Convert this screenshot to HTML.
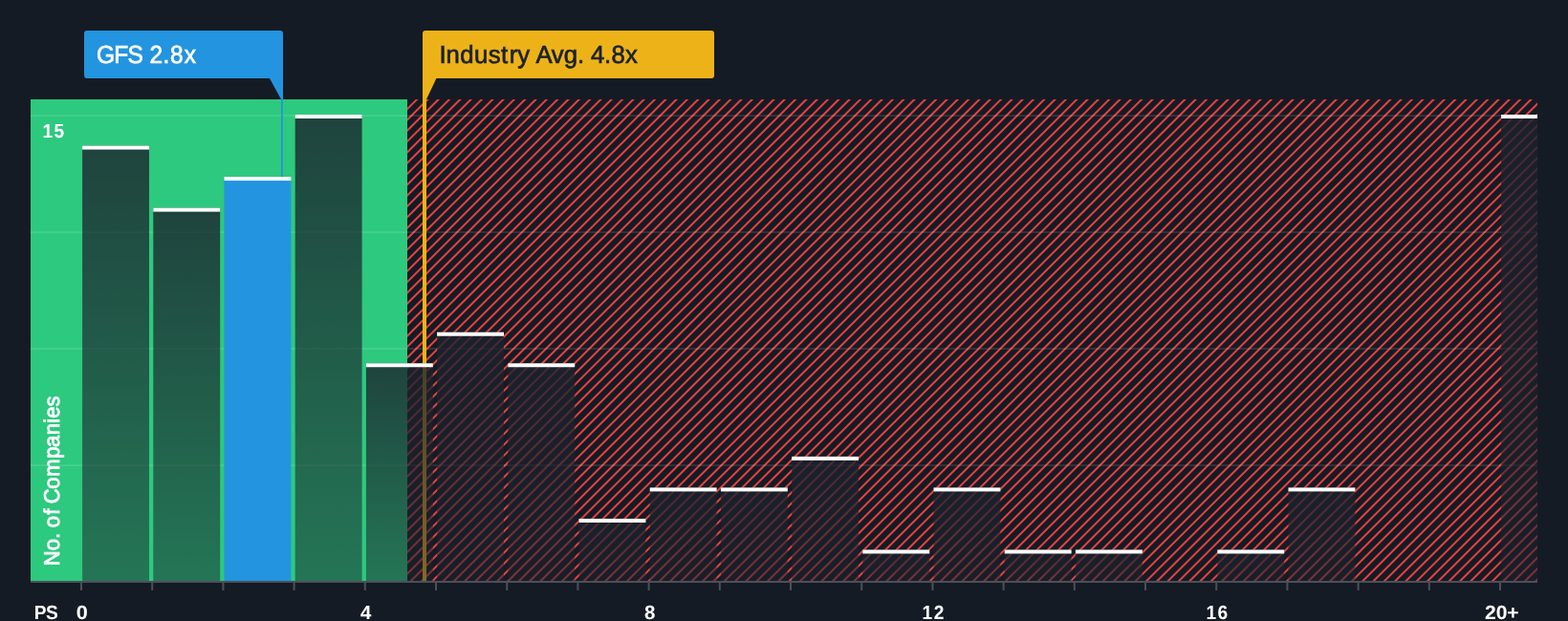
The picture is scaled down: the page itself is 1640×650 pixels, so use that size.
<!DOCTYPE html>
<html lang="en">
<head>
<meta charset="utf-8">
<title>GFS Price to Sales vs Industry</title>
<style>
html,body{margin:0;padding:0;background:#151B24;}
body{width:1640px;height:650px;overflow:hidden;}
svg{display:block;}
text{font-family:"Liberation Sans",sans-serif;}
</style>
</head>
<body>
<svg width="1640" height="650" viewBox="0 0 1640 650">
<defs>
<pattern id="hatch" patternUnits="userSpaceOnUse" width="8" height="8" patternTransform="translate(6.9 0) rotate(45)">
<rect x="0" y="0" width="2" height="8" fill="#E64141"/>
</pattern>
<linearGradient id="barg" x1="0" y1="0" x2="0" y2="1">
<stop offset="0" stop-color="#1B222D" stop-opacity="0.8"/>
<stop offset="1" stop-color="#1B222D" stop-opacity="0.5"/>
</linearGradient>
<clipPath id="plot"><rect x="32" y="104" width="1576" height="504"/></clipPath>
</defs>
<rect x="0" y="0" width="1640" height="650" fill="#151B24"/>
<rect x="32" y="104" width="394" height="504" fill="#2DC97E"/>
<rect x="426" y="104" width="1182" height="504" fill="url(#hatch)"/>
<rect x="32" y="120.30" width="1576" height="1.5" fill="#ffffff" fill-opacity="0.14"/>
<rect x="32" y="242.30" width="1576" height="1.5" fill="#ffffff" fill-opacity="0.14"/>
<rect x="32" y="364.30" width="1576" height="1.5" fill="#ffffff" fill-opacity="0.14"/>
<rect x="32" y="486.30" width="1576" height="1.5" fill="#ffffff" fill-opacity="0.14"/>
<rect x="442" y="82" width="4" height="526" fill="#EEB219"/>
<g clip-path="url(#plot)">
<rect x="86.10" y="152.53" width="69.9" height="455.47" fill="url(#barg)"/>
<rect x="86.10" y="152.53" width="69.9" height="4" fill="#ffffff"/>
<rect x="160.30" y="217.60" width="69.9" height="390.40" fill="url(#barg)"/>
<rect x="160.30" y="217.60" width="69.9" height="4" fill="#ffffff"/>
<rect x="234.50" y="185.07" width="69.9" height="422.93" fill="#2394DF"/>
<rect x="234.50" y="185.07" width="69.9" height="4" fill="#ffffff"/>
<rect x="308.70" y="120.00" width="69.9" height="488.00" fill="url(#barg)"/>
<rect x="308.70" y="120.00" width="69.9" height="4" fill="#ffffff"/>
<rect x="382.90" y="380.27" width="69.9" height="227.73" fill="url(#barg)"/>
<rect x="382.90" y="380.27" width="69.9" height="4" fill="#ffffff"/>
<rect x="457.10" y="347.73" width="69.9" height="260.27" fill="url(#barg)"/>
<rect x="457.10" y="347.73" width="69.9" height="4" fill="#ffffff"/>
<rect x="531.30" y="380.27" width="69.9" height="227.73" fill="url(#barg)"/>
<rect x="531.30" y="380.27" width="69.9" height="4" fill="#ffffff"/>
<rect x="605.50" y="542.93" width="69.9" height="65.07" fill="url(#barg)"/>
<rect x="605.50" y="542.93" width="69.9" height="4" fill="#ffffff"/>
<rect x="679.70" y="510.40" width="69.9" height="97.60" fill="url(#barg)"/>
<rect x="679.70" y="510.40" width="69.9" height="4" fill="#ffffff"/>
<rect x="753.90" y="510.40" width="69.9" height="97.60" fill="url(#barg)"/>
<rect x="753.90" y="510.40" width="69.9" height="4" fill="#ffffff"/>
<rect x="828.10" y="477.87" width="69.9" height="130.13" fill="url(#barg)"/>
<rect x="828.10" y="477.87" width="69.9" height="4" fill="#ffffff"/>
<rect x="902.30" y="575.47" width="69.9" height="32.53" fill="url(#barg)"/>
<rect x="902.30" y="575.47" width="69.9" height="4" fill="#ffffff"/>
<rect x="976.50" y="510.40" width="69.9" height="97.60" fill="url(#barg)"/>
<rect x="976.50" y="510.40" width="69.9" height="4" fill="#ffffff"/>
<rect x="1050.70" y="575.47" width="69.9" height="32.53" fill="url(#barg)"/>
<rect x="1050.70" y="575.47" width="69.9" height="4" fill="#ffffff"/>
<rect x="1124.90" y="575.47" width="69.9" height="32.53" fill="url(#barg)"/>
<rect x="1124.90" y="575.47" width="69.9" height="4" fill="#ffffff"/>
<rect x="1273.30" y="575.47" width="69.9" height="32.53" fill="url(#barg)"/>
<rect x="1273.30" y="575.47" width="69.9" height="4" fill="#ffffff"/>
<rect x="1347.50" y="510.40" width="69.9" height="97.60" fill="url(#barg)"/>
<rect x="1347.50" y="510.40" width="69.9" height="4" fill="#ffffff"/>
<rect x="1570.10" y="120.00" width="69.9" height="488.00" fill="url(#barg)"/>
<rect x="1570.10" y="120.00" width="69.9" height="4" fill="#ffffff"/>
</g>
<rect x="294" y="82" width="1.8" height="103.07" fill="#2394DF"/>
<rect x="32" y="608" width="1576" height="2" fill="#4B4F58"/>
<rect x="84.00" y="610" width="2" height="8" fill="#4B4F58"/>
<rect x="158.20" y="610" width="2" height="8" fill="#4B4F58"/>
<rect x="232.40" y="610" width="2" height="8" fill="#4B4F58"/>
<rect x="306.60" y="610" width="2" height="8" fill="#4B4F58"/>
<rect x="380.80" y="610" width="2" height="8" fill="#4B4F58"/>
<rect x="455.00" y="610" width="2" height="8" fill="#4B4F58"/>
<rect x="529.20" y="610" width="2" height="8" fill="#4B4F58"/>
<rect x="603.40" y="610" width="2" height="8" fill="#4B4F58"/>
<rect x="677.60" y="610" width="2" height="8" fill="#4B4F58"/>
<rect x="751.80" y="610" width="2" height="8" fill="#4B4F58"/>
<rect x="826.00" y="610" width="2" height="8" fill="#4B4F58"/>
<rect x="900.20" y="610" width="2" height="8" fill="#4B4F58"/>
<rect x="974.40" y="610" width="2" height="8" fill="#4B4F58"/>
<rect x="1048.60" y="610" width="2" height="8" fill="#4B4F58"/>
<rect x="1122.80" y="610" width="2" height="8" fill="#4B4F58"/>
<rect x="1197.00" y="610" width="2" height="8" fill="#4B4F58"/>
<rect x="1271.20" y="610" width="2" height="8" fill="#4B4F58"/>
<rect x="1345.40" y="610" width="2" height="8" fill="#4B4F58"/>
<rect x="1419.60" y="610" width="2" height="8" fill="#4B4F58"/>
<rect x="1493.80" y="610" width="2" height="8" fill="#4B4F58"/>
<rect x="1568.00" y="610" width="2" height="8" fill="#4B4F58"/>
<path d="M91 32H293a3 3 0 0 1 3 3V104H294L282 82H91a3 3 0 0 1-3-3V35a3 3 0 0 1 3-3Z" fill="#2394DF"/>
<path d="M445 32H744a3 3 0 0 1 3 3V79a3 3 0 0 1-3 3H456.4L446 104H442V35a3 3 0 0 1 3-3Z" fill="#EEB219"/>
<text text-rendering="geometricPrecision" transform="translate(0 66) scale(0.9388 1)" x="107.56 127.03 142.16 159.57 166.79 181.67 189.74 205.23" y="0" font-size="26.1" fill="#ffffff" stroke="#ffffff" stroke-width="0.7">GFS 2.8x</text>
<text text-rendering="geometricPrecision" transform="translate(0 66) scale(0.9846 1)" x="466.59 473.91 488.75 503.65 518.68 532.23 540.97 549.73 562.78 569.20 585.84 598.90 613.37 620.62 627.62 641.99 649.49 664.30" y="0" font-size="26.1" fill="#1B222D" stroke="#1B222D" stroke-width="0.7">Industry Avg. 4.8x</text>
<text text-rendering="geometricPrecision" transform="translate(0 144) scale(0.9400 1)" x="47.29 60.06" y="0" font-size="20.35" font-weight="bold" fill="#ffffff">15</text>
<text text-rendering="geometricPrecision" transform="translate(62.0 592.3) rotate(-90) translate(0 0) scale(0.9599 1)" x="-0.03 16.75 29.45 35.82 41.80 55.78 62.15 67.82 83.84 97.41 117.23 129.53 142.71 155.77 160.99 173.68" y="0" font-size="22.9" fill="#ffffff" stroke="#ffffff" stroke-width="0.8">No. of Companies</text>
<text text-rendering="geometricPrecision" transform="translate(0 648) scale(0.9406 1)" x="37.99 51.07" y="0" font-size="20.35" font-weight="bold" fill="#ffffff">PS</text>
<text text-rendering="geometricPrecision" transform="translate(0 648) scale(1.0643 1)" x="75.02" y="0" font-size="20.35" font-weight="bold" fill="#ffffff">0</text>
<text text-rendering="geometricPrecision" transform="translate(0 648) scale(1.0000 1)" x="377.00" y="0" font-size="20.35" font-weight="bold" fill="#ffffff">4</text>
<text text-rendering="geometricPrecision" transform="translate(0 648) scale(1.0054 1)" x="670.44" y="0" font-size="20.35" font-weight="bold" fill="#ffffff">8</text>
<text text-rendering="geometricPrecision" transform="translate(0 648) scale(0.9400 1)" x="1025.96 1038.97" y="0" font-size="20.35" font-weight="bold" fill="#ffffff">12</text>
<text text-rendering="geometricPrecision" transform="translate(0 648) scale(0.9400 1)" x="1341.97 1354.87" y="0" font-size="20.35" font-weight="bold" fill="#ffffff">16</text>
<text text-rendering="geometricPrecision" transform="translate(0 648) scale(1.0377 1)" x="1496.53 1508.01 1518.97" y="0" font-size="20.35" font-weight="bold" fill="#ffffff">20+</text>
</svg>
</body>
</html>
